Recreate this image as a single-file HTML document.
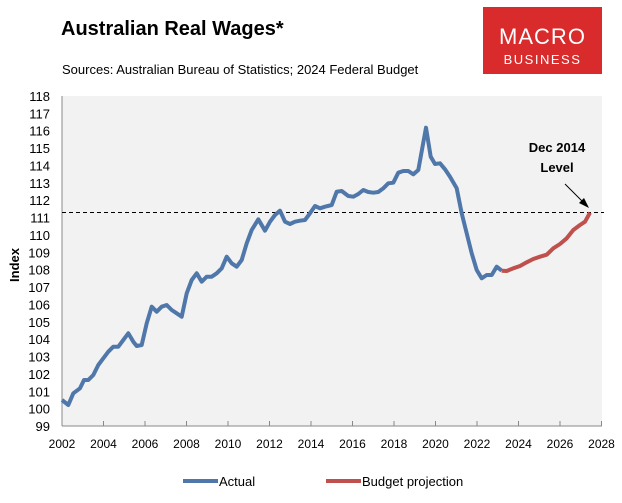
<!DOCTYPE html>
<html><head><meta charset="utf-8"><style>
body{margin:0;background:#fff;width:622px;height:498px;overflow:hidden;font-family:"Liberation Sans",sans-serif}
</style></head><body>
<svg width="622" height="498" xmlns="http://www.w3.org/2000/svg" font-family="Liberation Sans, sans-serif">
<text x="61" y="35" font-size="20" font-weight="bold" fill="#000">Australian Real Wages*</text>
<text x="62" y="74" font-size="13" fill="#000">Sources: Australian Bureau of Statistics; 2024 Federal Budget</text>
<rect x="483" y="7" width="119" height="67" fill="#d92b2b"/>
<text x="542.5" y="44" font-size="22" fill="#fff" text-anchor="middle" letter-spacing="1">MACRO</text>
<text x="542.5" y="64" font-size="13" fill="#fff" text-anchor="middle" letter-spacing="1.5">BUSINESS</text>
<rect x="62" y="96" width="540" height="330" fill="#f2f2f2"/>
<line x1="62" y1="96" x2="62" y2="426" stroke="#888" stroke-width="1"/>
<line x1="62" y1="426" x2="602" y2="426" stroke="#888" stroke-width="1"/>
<g font-size="13" fill="#000" text-anchor="end">
<text x="50" y="101">118</text><text x="50" y="118.4">117</text><text x="50" y="135.7">116</text><text x="50" y="153.1">115</text><text x="50" y="170.5">114</text><text x="50" y="187.8">113</text><text x="50" y="205.2">112</text><text x="50" y="222.6">111</text><text x="50" y="240">110</text><text x="50" y="257.3">109</text><text x="50" y="274.7">108</text><text x="50" y="292.1">107</text><text x="50" y="309.4">106</text><text x="50" y="326.8">105</text><text x="50" y="344.2">104</text><text x="50" y="361.5">103</text><text x="50" y="378.9">102</text><text x="50" y="396.3">101</text><text x="50" y="413.6">100</text><text x="50" y="431">99</text>
</g>
<g stroke="#888">
<line x1="103.5" y1="426" x2="103.5" y2="421"/><line x1="145" y1="426" x2="145" y2="421"/><line x1="186.5" y1="426" x2="186.5" y2="421"/><line x1="228" y1="426" x2="228" y2="421"/><line x1="269.5" y1="426" x2="269.5" y2="421"/><line x1="311" y1="426" x2="311" y2="421"/><line x1="352.5" y1="426" x2="352.5" y2="421"/><line x1="394" y1="426" x2="394" y2="421"/><line x1="435.5" y1="426" x2="435.5" y2="421"/><line x1="477" y1="426" x2="477" y2="421"/><line x1="518.5" y1="426" x2="518.5" y2="421"/><line x1="560" y1="426" x2="560" y2="421"/><line x1="601.5" y1="426" x2="601.5" y2="421"/>
</g>
<g font-size="12" fill="#000" text-anchor="middle">
<text x="62" y="448">2002</text><text x="103.5" y="448">2004</text><text x="145" y="448">2006</text><text x="186.5" y="448">2008</text><text x="228" y="448">2010</text><text x="269.5" y="448">2012</text><text x="311" y="448">2014</text><text x="352.5" y="448">2016</text><text x="394" y="448">2018</text><text x="435.5" y="448">2020</text><text x="477" y="448">2022</text><text x="518.5" y="448">2024</text><text x="560" y="448">2026</text><text x="601.5" y="448">2028</text>
</g>
<text transform="translate(19,265) rotate(-90)" font-size="13" font-weight="bold" text-anchor="middle">Index</text>
<line x1="62" y1="212.5" x2="604" y2="212.5" stroke="#000" stroke-width="1" stroke-dasharray="4,3"/>
<polyline fill="none" stroke="#4f77aa" stroke-width="4" stroke-linejoin="round" points="62,400 68.3,405 73.3,393.3 80,388.3 84,380 88.3,380 93.3,375 98.3,365 103.3,358.3 108.3,351.7 113.3,346.7 118.3,346.7 123.3,340 128.3,333.3 133.3,341.7 136.7,346 141.7,345 146.7,323.3 151.7,306.7 156.7,311.7 161.7,306.7 166.7,305 171.7,310 176.7,313.3 181.7,316.7 186.7,293.3 191.7,280 196.7,273.3 201.7,281.7 206.7,276.7 211.7,276.7 216.7,273.3 221.7,268.3 226.7,256.7 231.7,263.3 236.7,266.7 241.7,260 246.7,243.3 251.7,230 258.3,219.3 265,230.7 270,221.7 275,215 280,210.7 285,221.7 290,224 295,221.7 300,220.7 305,220 310,213.3 315,206 320,208.3 325,206.7 331.7,205 336.7,191.7 341.7,191 348.3,196 353.3,196.7 358.3,194 363.3,190 368.3,192 373.3,192.7 378.3,192 383.3,188.3 388.3,183.3 393.3,182.7 398.3,172.7 403.3,171 408.3,171 413.3,174.3 418.3,170 426,127.7 430.7,156.7 435,164 440,163.3 445,169.3 450,176.7 456.7,188.3 461.7,213.3 466.7,233.3 471.7,253.3 476.7,270 481.7,278.3 486.7,275 491.7,275 496.7,266.7 501.7,270.7"/>
<polyline fill="none" stroke="#c0504d" stroke-width="4" stroke-linejoin="round" points="501.7,270.7 506.7,271 513.3,268.3 520,266 526.7,262.3 533.3,259 540,256.7 546.7,254.7 553.3,248.3 560,244 566.7,238.3 573.3,230 580,225 585,221.7 590,212.7"/>
<text x="557" y="152" font-size="13" font-weight="bold" text-anchor="middle">Dec 2014</text>
<text x="557" y="172" font-size="13" font-weight="bold" text-anchor="middle">Level</text>
<line x1="565" y1="184" x2="584" y2="203" stroke="#000" stroke-width="1"/>
<polygon points="589,208 579,203 584,198" fill="#000"/>
<line x1="183" y1="481" x2="218" y2="481" stroke="#4f77aa" stroke-width="4"/>
<text x="219" y="486" font-size="13">Actual</text>
<line x1="326" y1="481" x2="361" y2="481" stroke="#c0504d" stroke-width="4"/>
<text x="362" y="486" font-size="13">Budget projection</text>
</svg>
</body></html>
